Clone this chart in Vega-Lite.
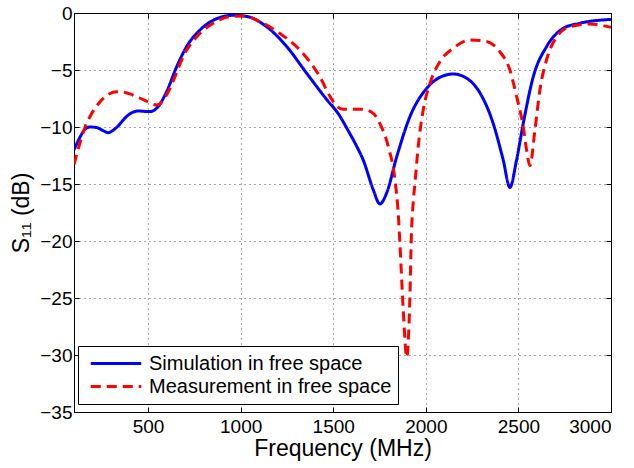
{
  "$schema": "https://vega.github.io/schema/vega-lite/v6.json",
  "width": 537,
  "height": 399,
  "autosize": {"type": "none"},
  "padding": {"left": 74, "top": 13, "right": 23, "bottom": 56},
  "background": "white",
  "config": {
    "font": "Liberation Sans",
    "view": {"stroke": "black", "strokeWidth": 1},
    "axis": {
      "domainColor": "black",
      "tickColor": "black",
      "labelColor": "black",
      "titleColor": "black",
      "labelFont": "Liberation Sans",
      "titleFont": "Liberation Sans",
      "labelFontSize": 19,
      "titleFontSize": 23,
      "titleFontWeight": "normal",
      "tickSize": -5,
      "gridColor": "black",
      "gridDash": [1, 4],
      "gridOpacity": 0.7
    }
  },
  "data": {
    "values": [
      {"f": 100, "v": -12.0, "s": "Simulation in free space"},
      {"f": 132, "v": -10.9, "s": "Simulation in free space"},
      {"f": 160, "v": -10.2, "s": "Simulation in free space"},
      {"f": 186, "v": -10.0, "s": "Simulation in free space"},
      {"f": 222, "v": -10.05, "s": "Simulation in free space"},
      {"f": 255, "v": -10.3, "s": "Simulation in free space"},
      {"f": 285, "v": -10.5, "s": "Simulation in free space"},
      {"f": 310, "v": -10.3, "s": "Simulation in free space"},
      {"f": 339, "v": -9.9, "s": "Simulation in free space"},
      {"f": 365, "v": -9.4, "s": "Simulation in free space"},
      {"f": 393, "v": -8.95, "s": "Simulation in free space"},
      {"f": 447, "v": -8.6, "s": "Simulation in free space"},
      {"f": 510, "v": -8.65, "s": "Simulation in free space"},
      {"f": 555, "v": -8.2, "s": "Simulation in free space"},
      {"f": 600, "v": -6.9, "s": "Simulation in free space"},
      {"f": 655, "v": -4.7, "s": "Simulation in free space"},
      {"f": 708, "v": -2.95, "s": "Simulation in free space"},
      {"f": 780, "v": -1.5, "s": "Simulation in free space"},
      {"f": 870, "v": -0.5, "s": "Simulation in free space"},
      {"f": 960, "v": -0.2, "s": "Simulation in free space"},
      {"f": 1033, "v": -0.3, "s": "Simulation in free space"},
      {"f": 1140, "v": -1.2, "s": "Simulation in free space"},
      {"f": 1249, "v": -2.95, "s": "Simulation in free space"},
      {"f": 1357, "v": -5.3, "s": "Simulation in free space"},
      {"f": 1465, "v": -7.6, "s": "Simulation in free space"},
      {"f": 1530, "v": -8.9, "s": "Simulation in free space"},
      {"f": 1580, "v": -10.3, "s": "Simulation in free space"},
      {"f": 1630, "v": -11.8, "s": "Simulation in free space"},
      {"f": 1662, "v": -12.9, "s": "Simulation in free space"},
      {"f": 1716, "v": -15.5, "s": "Simulation in free space"},
      {"f": 1752, "v": -16.75, "s": "Simulation in free space"},
      {"f": 1788, "v": -15.8, "s": "Simulation in free space"},
      {"f": 1843, "v": -12.6, "s": "Simulation in free space"},
      {"f": 1914, "v": -9.1, "s": "Simulation in free space"},
      {"f": 2005, "v": -6.6, "s": "Simulation in free space"},
      {"f": 2076, "v": -5.64, "s": "Simulation in free space"},
      {"f": 2148, "v": -5.35, "s": "Simulation in free space"},
      {"f": 2221, "v": -5.73, "s": "Simulation in free space"},
      {"f": 2292, "v": -7.0, "s": "Simulation in free space"},
      {"f": 2364, "v": -9.7, "s": "Simulation in free space"},
      {"f": 2418, "v": -12.9, "s": "Simulation in free space"},
      {"f": 2454, "v": -15.3, "s": "Simulation in free space"},
      {"f": 2490, "v": -12.9, "s": "Simulation in free space"},
      {"f": 2526, "v": -9.7, "s": "Simulation in free space"},
      {"f": 2580, "v": -5.6, "s": "Simulation in free space"},
      {"f": 2652, "v": -2.95, "s": "Simulation in free space"},
      {"f": 2742, "v": -1.35, "s": "Simulation in free space"},
      {"f": 2832, "v": -0.9, "s": "Simulation in free space"},
      {"f": 3000, "v": -0.56, "s": "Simulation in free space"},
      {"f": 100, "v": -13.3, "s": "Measurement in free space"},
      {"f": 132, "v": -11.4, "s": "Measurement in free space"},
      {"f": 160, "v": -10.0, "s": "Measurement in free space"},
      {"f": 186, "v": -9.1, "s": "Measurement in free space"},
      {"f": 240, "v": -7.8, "s": "Measurement in free space"},
      {"f": 290, "v": -7.1, "s": "Measurement in free space"},
      {"f": 330, "v": -6.9, "s": "Measurement in free space"},
      {"f": 370, "v": -6.95, "s": "Measurement in free space"},
      {"f": 402, "v": -7.1, "s": "Measurement in free space"},
      {"f": 474, "v": -7.6, "s": "Measurement in free space"},
      {"f": 547, "v": -8.07, "s": "Measurement in free space"},
      {"f": 600, "v": -7.2, "s": "Measurement in free space"},
      {"f": 645, "v": -5.6, "s": "Measurement in free space"},
      {"f": 690, "v": -3.8, "s": "Measurement in free space"},
      {"f": 762, "v": -2.1, "s": "Measurement in free space"},
      {"f": 852, "v": -0.9, "s": "Measurement in free space"},
      {"f": 942, "v": -0.32, "s": "Measurement in free space"},
      {"f": 1014, "v": -0.26, "s": "Measurement in free space"},
      {"f": 1104, "v": -0.76, "s": "Measurement in free space"},
      {"f": 1212, "v": -1.8, "s": "Measurement in free space"},
      {"f": 1320, "v": -3.25, "s": "Measurement in free space"},
      {"f": 1428, "v": -5.6, "s": "Measurement in free space"},
      {"f": 1482, "v": -7.3, "s": "Measurement in free space"},
      {"f": 1520, "v": -8.2, "s": "Measurement in free space"},
      {"f": 1554, "v": -8.45, "s": "Measurement in free space"},
      {"f": 1662, "v": -8.45, "s": "Measurement in free space"},
      {"f": 1716, "v": -8.8, "s": "Measurement in free space"},
      {"f": 1752, "v": -9.7, "s": "Measurement in free space"},
      {"f": 1797, "v": -11.7, "s": "Measurement in free space"},
      {"f": 1833, "v": -14.6, "s": "Measurement in free space"},
      {"f": 1851, "v": -17.6, "s": "Measurement in free space"},
      {"f": 1860, "v": -20.2, "s": "Measurement in free space"},
      {"f": 1878, "v": -26.0, "s": "Measurement in free space"},
      {"f": 1897, "v": -30.2, "s": "Measurement in free space"},
      {"f": 1914, "v": -24.9, "s": "Measurement in free space"},
      {"f": 1922, "v": -19.5, "s": "Measurement in free space"},
      {"f": 1932, "v": -16.6, "s": "Measurement in free space"},
      {"f": 1941, "v": -15.0, "s": "Measurement in free space"},
      {"f": 1959, "v": -11.7, "s": "Measurement in free space"},
      {"f": 1986, "v": -8.5, "s": "Measurement in free space"},
      {"f": 2022, "v": -6.2, "s": "Measurement in free space"},
      {"f": 2076, "v": -4.27, "s": "Measurement in free space"},
      {"f": 2148, "v": -3.1, "s": "Measurement in free space"},
      {"f": 2238, "v": -2.37, "s": "Measurement in free space"},
      {"f": 2329, "v": -2.5, "s": "Measurement in free space"},
      {"f": 2400, "v": -3.4, "s": "Measurement in free space"},
      {"f": 2454, "v": -5.0, "s": "Measurement in free space"},
      {"f": 2490, "v": -7.3, "s": "Measurement in free space"},
      {"f": 2526, "v": -10.0, "s": "Measurement in free space"},
      {"f": 2544, "v": -12.0, "s": "Measurement in free space"},
      {"f": 2562, "v": -13.4, "s": "Measurement in free space"},
      {"f": 2589, "v": -10.3, "s": "Measurement in free space"},
      {"f": 2616, "v": -6.75, "s": "Measurement in free space"},
      {"f": 2652, "v": -4.1, "s": "Measurement in free space"},
      {"f": 2706, "v": -2.1, "s": "Measurement in free space"},
      {"f": 2778, "v": -1.2, "s": "Measurement in free space"},
      {"f": 2886, "v": -0.96, "s": "Measurement in free space"},
      {"f": 3000, "v": -1.26, "s": "Measurement in free space"}
    ]
  },
  "layer": [
    {
      "mark": {"type": "line", "interpolate": "monotone", "strokeWidth": 3, "clip": true},
      "encoding": {
        "x": {
          "field": "f", "type": "quantitative",
          "scale": {"domain": [100, 3000], "nice": false, "zero": false},
          "axis": {"values": [500, 1000, 1500, 2000, 2500, 3000], "format": "d", "title": "Frequency (MHz)", "labelPadding": 10, "titlePadding": 1, "grid": true}
        },
        "y": {
          "field": "v", "type": "quantitative",
          "scale": {"domain": [-35, 0], "nice": false, "zero": false},
          "axis": {"values": [-35, -30, -25, -20, -15, -10, -5, 0], "title": "S₁₁ (dB)", "labelPadding": 7, "titlePadding": 6, "grid": true}
        },
        "color": {
          "field": "s", "type": "nominal",
          "scale": {"domain": ["Simulation in free space", "Measurement in free space"], "range": ["#0000ff", "#ff0000"]},
          "legend": {
            "title": null,
            "orient": "none",
            "legendX": 4,
            "legendY": 333,
            "direction": "vertical",
            "fillColor": "white",
            "strokeColor": "black",
            "padding": 6,
            "labelFontSize": 20,
            "labelFont": "Liberation Sans",
            "labelColor": "black",
            "symbolType": "stroke",
            "symbolSize": 2550,
            "symbolStrokeWidth": 3,
            "symbolOffset": 5,
            "clipHeight": 23,
            "labelOffset": 6,
            "rowPadding": 0,
            "labelLimit": 400
          }
        },
        "strokeDash": {
          "field": "s", "type": "nominal",
          "scale": {"domain": ["Simulation in free space", "Measurement in free space"], "range": [[1, 0], [10, 6]]},
          "legend": null
        }
      }
    },
    {
      "mark": {"type": "line", "strokeOpacity": 0},
      "encoding": {
        "x": {"field": "f", "type": "quantitative", "axis": {"orient": "top", "values": [500, 1000, 1500, 2000, 2500, 3000], "labels": false, "title": null, "grid": false}},
        "y": {"field": "v", "type": "quantitative", "axis": {"orient": "right", "values": [-35, -30, -25, -20, -15, -10, -5, 0], "labels": false, "title": null, "grid": false}}
      }
    }
  ],
  "resolve": {"axis": {"x": "independent", "y": "independent"}}
}
